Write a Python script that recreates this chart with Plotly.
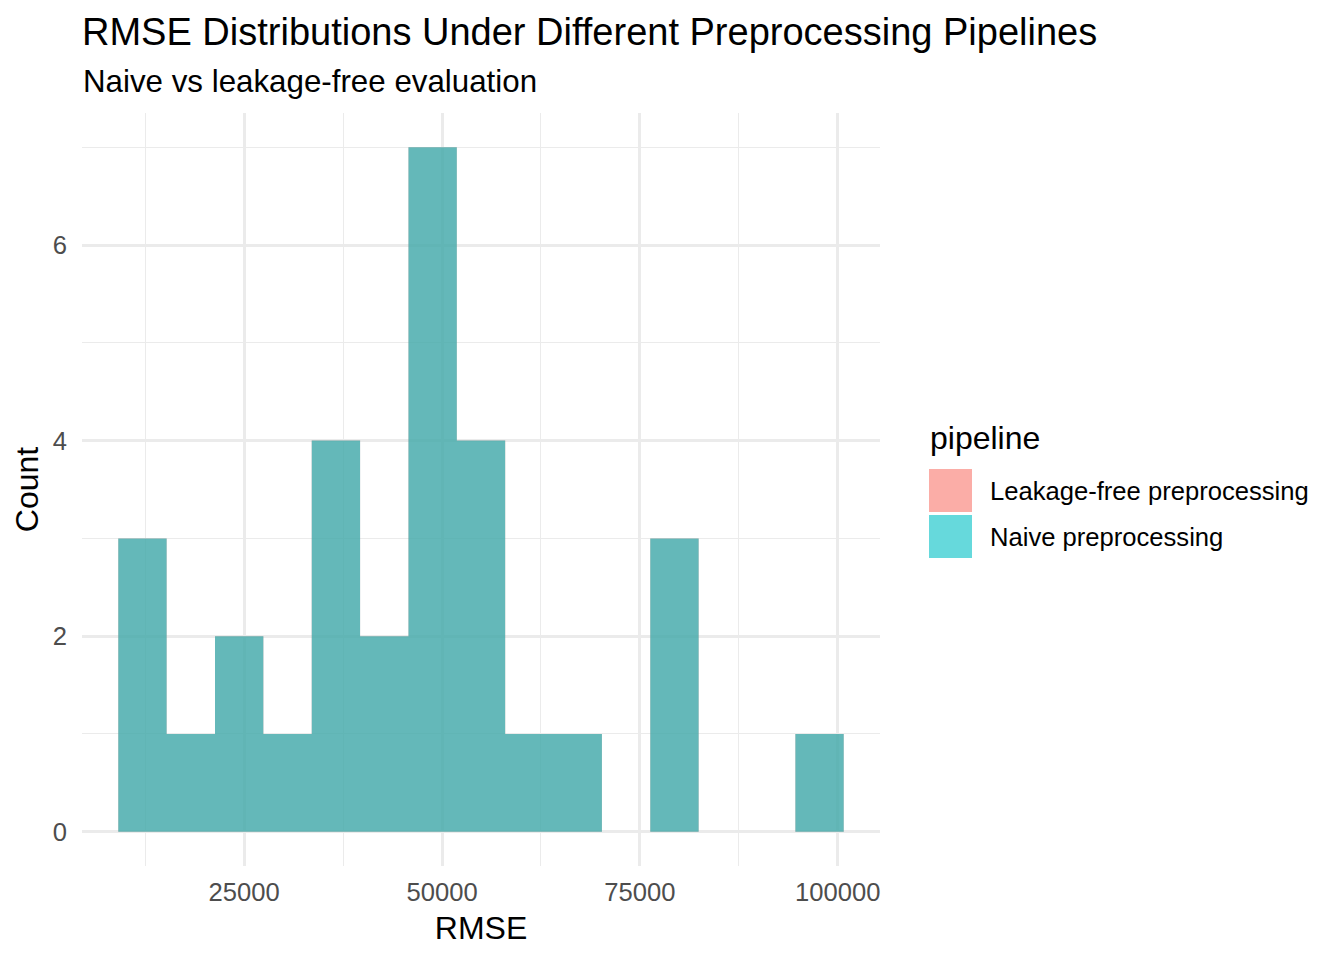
import plotly.graph_objects as go

# ---- data ----
pipelines = ["Leakage-free preprocessing", "Naive preprocessing"]
fill_colors = ["rgba(248,118,109,0.6)", "rgba(0,191,196,0.6)"]
bin_counts_leakage_free = [3, 1, 2, 1, 4, 2, 7, 4, 1, 1, 0, 3, 0, 0, 1]
bin_counts_naive = [3, 1, 2, 1, 4, 2, 7, 4, 1, 1, 0, 3, 0, 0, 1]
rmse_min = 12150
rmse_max = 97700
n_bins = 15
x_tick_values = [25000, 50000, 75000, 100000]
y_tick_values = [0, 2, 4, 6]

# ggplot-style binning: first/last bins centred on min/max
bw = (rmse_max - rmse_min) / (n_bins - 1)
edges = [rmse_min - bw / 2 + i * bw for i in range(n_bins + 1)]
lo, hi = edges[0], edges[-1]
xpad = (hi - lo) * 0.05
ymax = max(max(bin_counts_naive), max(bin_counts_leakage_free))
ypad = ymax * 0.05

W, H = 1344, 960
OFF = 8  # page body margin offset
L, R, T, B = 82 - OFF, 880 - OFF, 113 - OFF, 866 - OFF  # plot area in px

fig = go.Figure()
for name, col, cnt in zip(pipelines, fill_colors, [bin_counts_leakage_free, bin_counts_naive]):
    # histogram drawn as one seamless stepped area (bars of width bw)
    fig.add_trace(go.Scatter(
        x=edges, y=list(cnt) + [cnt[-1]], name=name, mode="lines",
        line=dict(shape="hv", width=0), fill="tozeroy", fillcolor=col,
        showlegend=False, hoverinfo="skip",
    ))

font = "Liberation Sans, Arial, sans-serif"
grid = "#EBEBEB"

fig.update_layout(
    width=W, height=H,
    paper_bgcolor="white", plot_bgcolor="white",
    margin=dict(l=L, r=W - R, t=T, b=H - B, autoexpand=False),
    font=dict(family=font, color="black"),
    title=dict(text="RMSE Distributions Under Different Preprocessing Pipelines",
               x=L / W, xanchor="left", xref="container",
               y=1 - (32 - OFF) / H, yanchor="middle", yref="container",
               font=dict(size=38, color="black", family=font)),
    xaxis=dict(range=[lo - xpad, hi + xpad], tickvals=x_tick_values,
               ticktext=[str(v) for v in x_tick_values],
               showgrid=True, gridcolor=grid, gridwidth=2.7, zeroline=False,
               showline=False, ticks="", ticklabelstandoff=8,
               tickfont=dict(size=25.6, color="#4D4D4D", family=font),
               minor=dict(dtick=12500, tick0=12500, showgrid=True, gridcolor=grid, gridwidth=1.3),
               title=dict(text="RMSE", font=dict(size=32, color="black", family=font), standoff=12)),
    yaxis=dict(range=[-ypad, ymax + ypad], tickvals=y_tick_values,
               showgrid=True, gridcolor=grid, gridwidth=2.7, zeroline=False,
               showline=False, ticks="", ticklabelstandoff=14,
               tickfont=dict(size=25.6, color="#4D4D4D", family=font),
               minor=dict(dtick=1, tick0=1, showgrid=True, gridcolor=grid, gridwidth=1.3),
               title=dict(text="Count", font=dict(size=32, color="black", family=font), standoff=4)),
)

def px_x(p):
    return (p - OFF - L) / (R - L)

def px_y(p):
    return (B - (p - OFF)) / (B - T)

annotations = [
    dict(text="Naive vs leakage-free evaluation", xref="paper", yref="paper",
         x=px_x(81), y=px_y(81), xanchor="left", yanchor="middle", showarrow=False,
         font=dict(size=31.3, color="black", family=font)),
    dict(text="pipeline", xref="paper", yref="paper",
         x=px_x(928), y=px_y(438), xanchor="left", yanchor="middle", showarrow=False,
         font=dict(size=32, color="black", family=font)),
]
shapes = []
key_tops = [469, 515]
for name, col, top in zip(pipelines, fill_colors, key_tops):
    shapes.append(dict(type="rect", xref="paper", yref="paper",
                       x0=px_x(929), x1=px_x(972), y0=px_y(top + 43), y1=px_y(top),
                       fillcolor=col, line=dict(width=0)))
    annotations.append(dict(text=name, xref="paper", yref="paper",
                            x=px_x(988), y=px_y(top + 22), xanchor="left", yanchor="middle",
                            showarrow=False, font=dict(size=25.6, color="black", family=font)))

fig.update_layout(annotations=annotations, shapes=shapes)
fig.write_html("out.html")
